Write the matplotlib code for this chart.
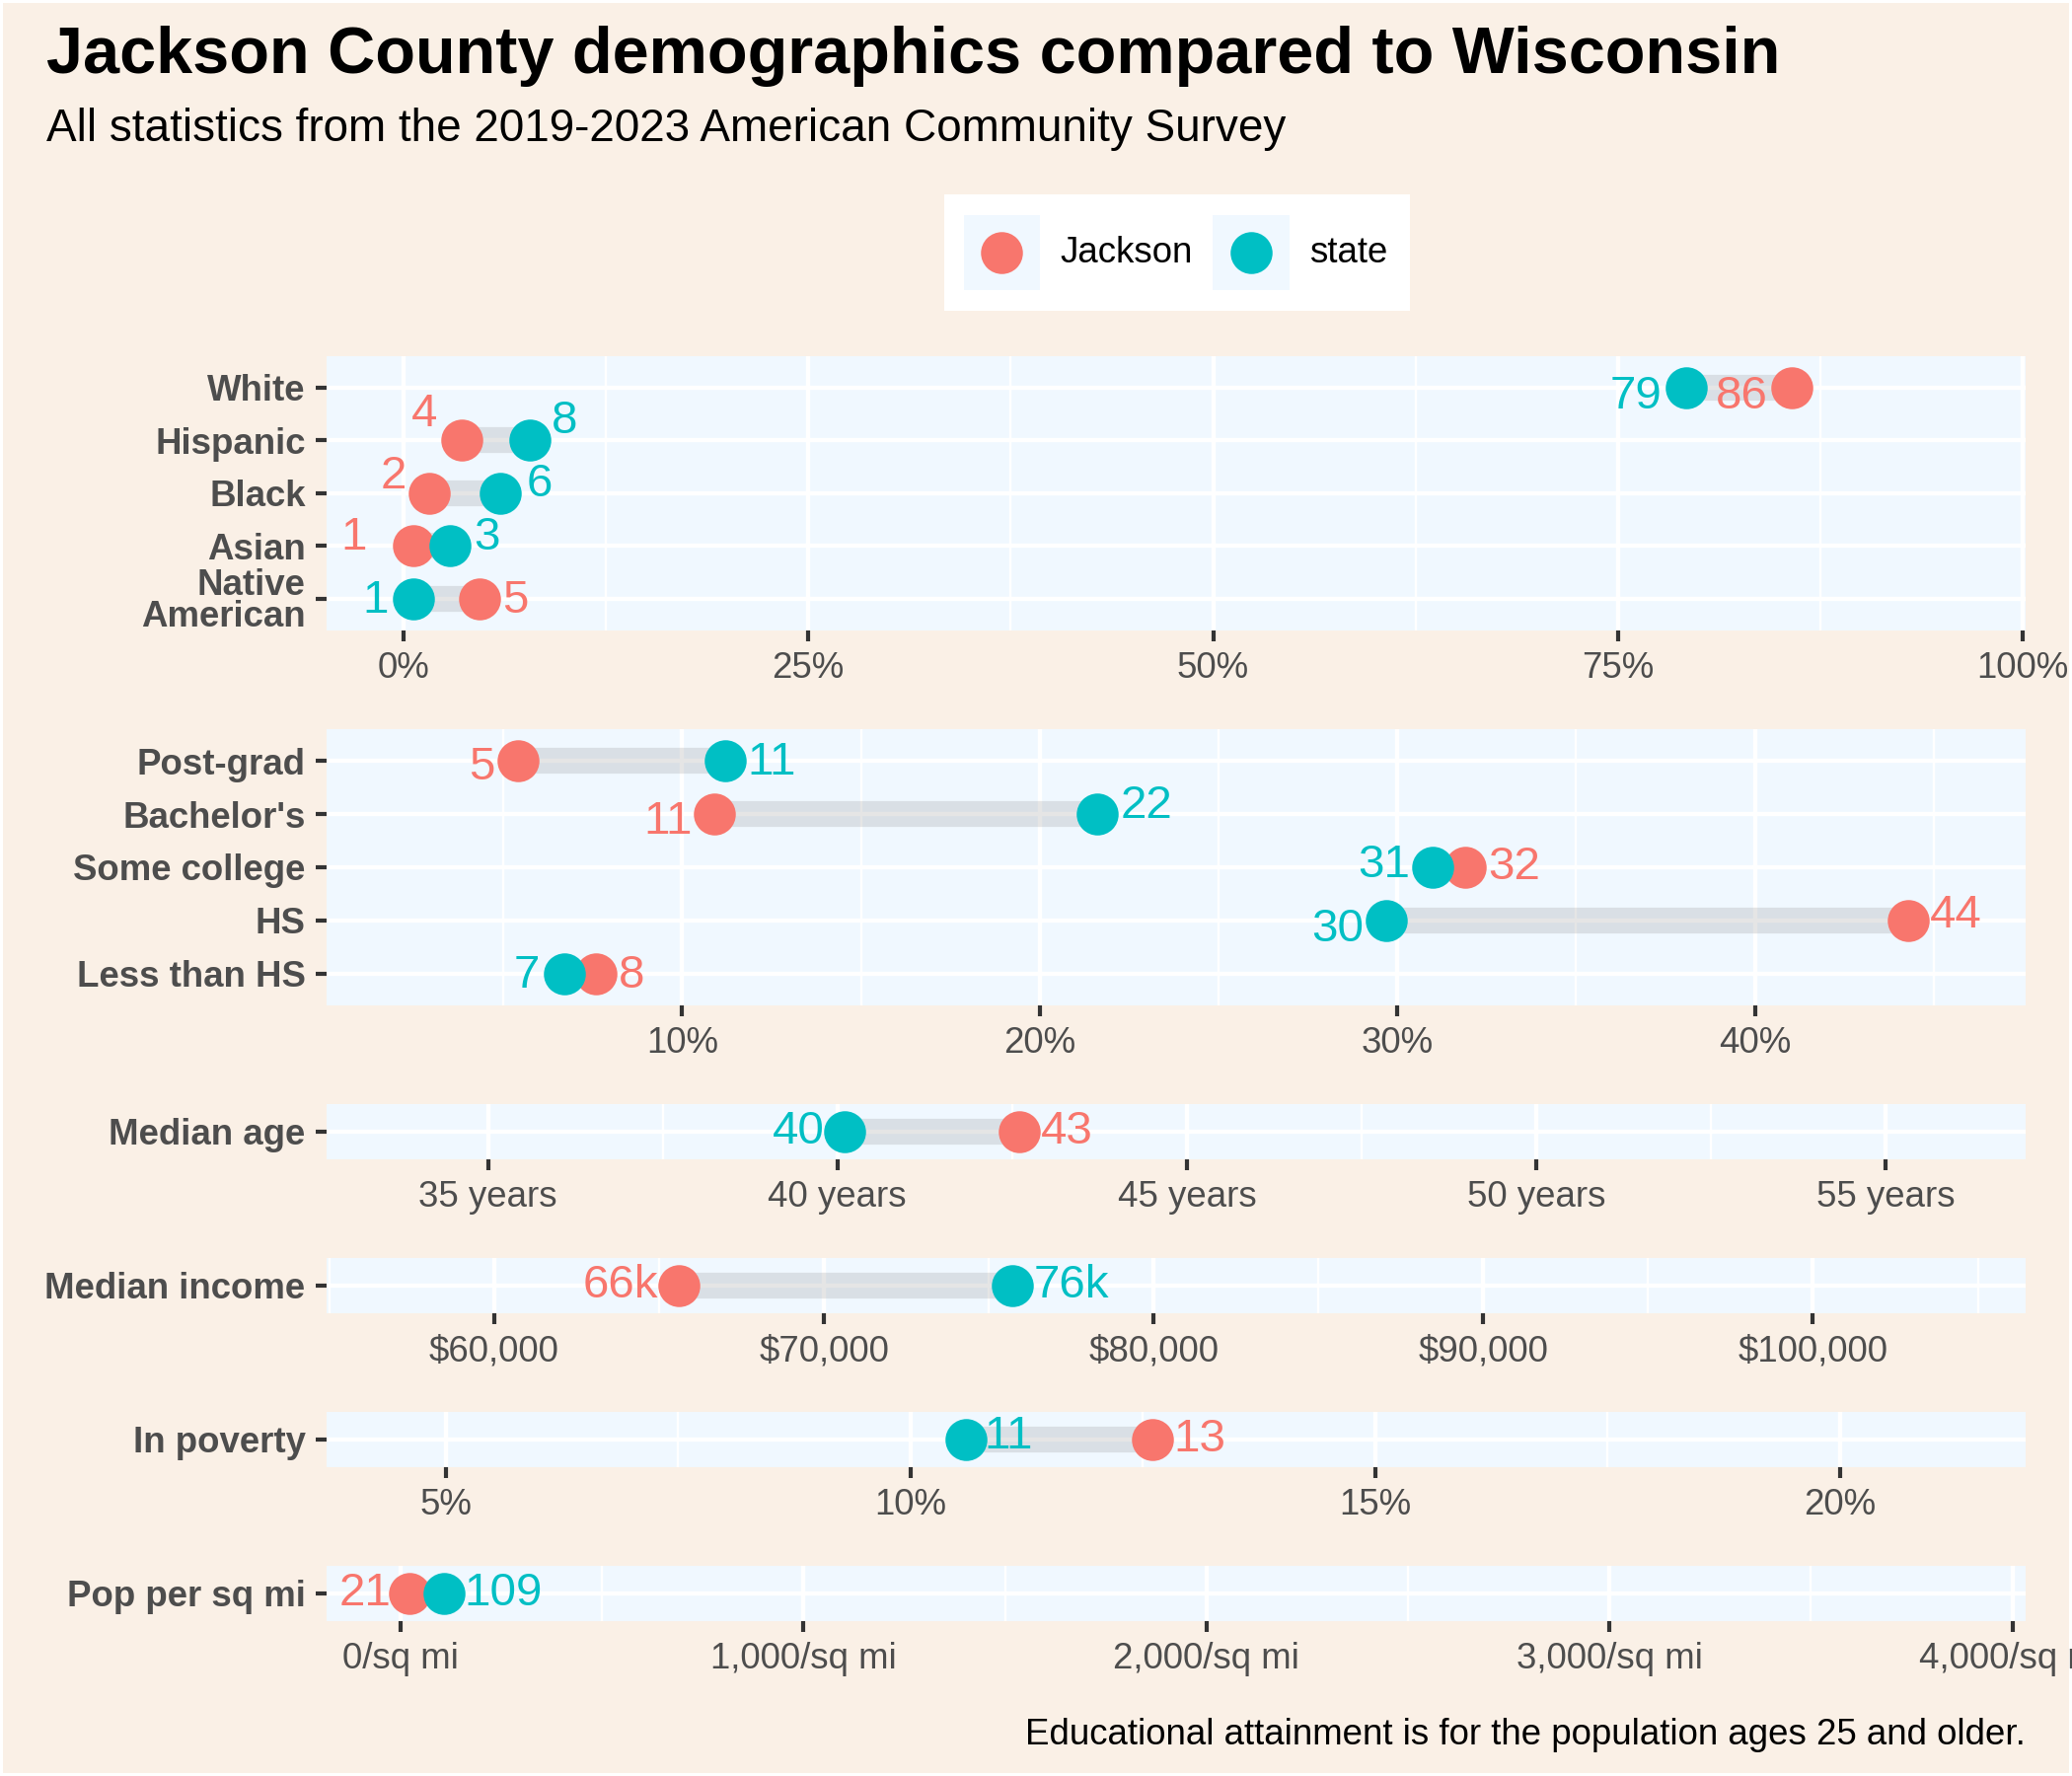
import matplotlib
matplotlib.use("Agg")
import matplotlib.pyplot as plt
from matplotlib.patches import Rectangle

plt.rcParams['font.family'] = ['Liberation Sans', 'DejaVu Sans']

# ---------------- data ----------------
race_cats = ["White", "Hispanic", "Black", "Asian", "Native\nAmerican"]
race_jackson = [85.7, 3.6, 1.6, 0.6, 4.7]
race_state = [79.2, 7.8, 6.0, 2.9, 0.6]

edu_cats = ["Post-grad", "Bachelor's", "Some college", "HS", "Less than HS"]
edu_jackson = [5.4, 10.9, 31.9, 44.3, 7.6]
edu_state = [11.2, 21.6, 31.0, 29.7, 6.7]

age_cats = ["Median age"]
age_jackson = [42.6]
age_state = [40.1]

income_cats = ["Median income"]
income_jackson = [65600]
income_state = [75700]

poverty_cats = ["In poverty"]
poverty_jackson = [12.6]
poverty_state = [10.6]

density_cats = ["Pop per sq mi"]
density_jackson = [21]
density_state = [109]

title = "Jackson County demographics compared to Wisconsin"
subtitle = "All statistics from the 2019-2023 American Community Survey"
caption = "Educational attainment is for the population ages 25 and older."
legend_labels = ["Jackson", "state"]

# ---------------- style ----------------
C_J = "#F8766D"
C_S = "#00BFC4"
FIG_BG = "#FAF0E6"
PANEL_BG = "#F0F8FF"
TXT = "#4D4D4D"
DPI = 300
PX = 72.0 / DPI  # points per pixel

fig = plt.figure(figsize=(7, 6), dpi=DPI)
fig.patch.set_facecolor(FIG_BG)
fig.patch.set_edgecolor("white")
fig.patch.set_linewidth(1.0)

L, R = 331 / 2100, 2053 / 2100


def panel_rect(top_px, bot_px):
    return [L, 1 - bot_px / 1800, R - L, (bot_px - top_px) / 1800]


def fmt_pct(v):
    return f"{v:g}%"


panels = [
    dict(cats=race_cats, j=race_jackson, s=race_state, rect=panel_rect(360.7, 639),
         xlim=(-4.73, 100.16), major=[0, 25, 50, 75, 100], minor=[12.5, 37.5, 62.5, 87.5],
         fmt=fmt_pct, lab=lambda v: f"{round(v)}",
         offj=[(-50, -9), (-37.5, 26), (-36, 17), (-60, 8), (36, -2)],
         offs=[(-51, -9), (35, 19), (40, 9), (37.5, 8), (-37.5, -2)]),
    dict(cats=edu_cats, j=edu_jackson, s=edu_state, rect=panel_rect(739, 1019),
         xlim=(0.06, 47.57), major=[10, 20, 30, 40], minor=[5, 15, 25, 35, 45],
         fmt=fmt_pct, lab=lambda v: f"{round(v)}",
         offj=[(-36, -7), (-47, -8), (50, 0), (48, 5), (36, -2)],
         offs=[(47, -2), (50, 8), (-50, 2), (-50, -9), (-37.5, -2)]),
    dict(cats=age_cats, j=age_jackson, s=age_state, rect=panel_rect(1119, 1175),
         xlim=(32.69, 57.0), major=[35, 40, 45, 50, 55], minor=[37.5, 42.5, 47.5, 52.5],
         fmt=lambda v: f"{v:g} years", lab=lambda v: f"{round(v)}",
         offj=[(48, 0)], offs=[(-47, 0)]),
    dict(cats=income_cats, j=income_jackson, s=income_state, rect=panel_rect(1275, 1331),
         xlim=(54910, 106450), major=[60000, 70000, 80000, 90000, 100000],
         minor=[55000, 65000, 75000, 85000, 95000, 105000],
         fmt=lambda v: f"${v:,.0f}", lab=lambda v: f"{round(v / 1000)}k",
         offj=[(-59, 0)], offs=[(60, 0)]),
    dict(cats=poverty_cats, j=poverty_jackson, s=poverty_state, rect=panel_rect(1431, 1487),
         xlim=(3.72, 22.0), major=[5, 10, 15, 20], minor=[7.5, 12.5, 17.5],
         fmt=fmt_pct, lab=lambda v: f"{round(v)}",
         offj=[(48, 0)], offs=[(43, 3)]),
    dict(cats=density_cats, j=density_jackson, s=density_state, rect=panel_rect(1587, 1643),
         xlim=(-183.6, 4033), major=[0, 1000, 2000, 3000, 4000], minor=[500, 1500, 2500, 3500],
         fmt=lambda v: f"{v:,.0f}/sq mi", lab=lambda v: f"{round(v)}",
         offj=[(-44, 0)], offs=[(60, 0)]),
]

MS = 10.2          # marker diameter in points
SEG_LW = 6.3       # segment thickness in points

for p in panels:
    ax = fig.add_axes(p["rect"])
    ax.set_facecolor(PANEL_BG)
    for sp in ax.spines.values():
        sp.set_visible(False)
    n = len(p["cats"])
    ys = [n - i for i in range(n)]
    ax.set_xlim(*p["xlim"])
    ax.set_ylim(0.4, n + 0.6)

    ax.set_xticks(p["major"])
    ax.set_xticks(p["minor"], minor=True)
    ax.set_xticklabels([p["fmt"](v) for v in p["major"]])
    ax.set_yticks(ys)
    ax.set_yticklabels(p["cats"], fontweight="bold", color=TXT, fontsize=8.8,
                       linespacing=0.9)
    ax.tick_params(axis="x", which="major", length=11 * PX * 1.0, width=1.0,
                   color="#333333", labelsize=8.8, labelcolor=TXT, pad=2.4)
    ax.tick_params(axis="x", which="minor", length=0)
    ax.tick_params(axis="y", length=11 * PX, width=1.0, color="#333333", pad=2.5)

    ax.grid(True, which="major", axis="both", color="white", lw=1.05, zorder=0)
    ax.grid(True, which="minor", axis="x", color="white", lw=0.55, zorder=0)
    ax.set_axisbelow(True)

    lo = [min(a, b) for a, b in zip(p["j"], p["s"])]
    hi = [max(a, b) for a, b in zip(p["j"], p["s"])]
    ax.hlines(ys, lo, hi, colors="#7F7F7F", alpha=0.2, lw=SEG_LW,
              capstyle="butt", zorder=2)
    ax.plot(p["j"], ys, "o", ms=MS, color=C_J, mec="none", zorder=3)
    ax.plot(p["s"], ys, "o", ms=MS, color=C_S, mec="none", zorder=3)

    for vals, offs, col in ((p["j"], p["offj"], C_J), (p["s"], p["offs"], C_S)):
        for v, y, (dx, dy) in zip(vals, ys, offs):
            ax.annotate(p["lab"](v), (v, y), xytext=(dx * PX, dy * PX),
                        textcoords="offset points", ha="center", va="center",
                        color=col, fontsize=11.4, zorder=4, annotation_clip=False)

# ---------------- legend ----------------
lax = fig.add_axes([956.7 / 2100, 1 - 315 / 1800, 472 / 2100, 118.3 / 1800])
lax.set_xlim(0, 472)
lax.set_ylim(0, 118.3)
lax.set_facecolor("white")
lax.set_xticks([])
lax.set_yticks([])
for sp in lax.spines.values():
    sp.set_visible(False)
for kx, col, lab in ((20, C_J, legend_labels[0]), (272.6, C_S, legend_labels[1])):
    lax.add_patch(Rectangle((kx, 21), 77.3, 76.3, facecolor=PANEL_BG, edgecolor="none"))
    lax.plot([kx + 38.6], [59], "o", ms=MS, color=col, mec="none")
    lax.text(kx + 97.6, 59, lab, ha="left", va="center", fontsize=8.8, color="black")

# ---------------- titles ----------------
fig.text(46.9 / 2100, 1 - 74 / 1800, title, fontsize=16, fontweight="bold",
         color="black", ha="left", va="baseline")
fig.text(46.9 / 2100, 1 - 143 / 1800, subtitle, fontsize=11, color="black",
         ha="left", va="baseline")
fig.text(R, 1 - 1768 / 1800, caption, fontsize=8.8, color="black",
         ha="right", va="baseline")

fig.savefig("out.png", dpi=DPI, facecolor=FIG_BG, edgecolor="white")
